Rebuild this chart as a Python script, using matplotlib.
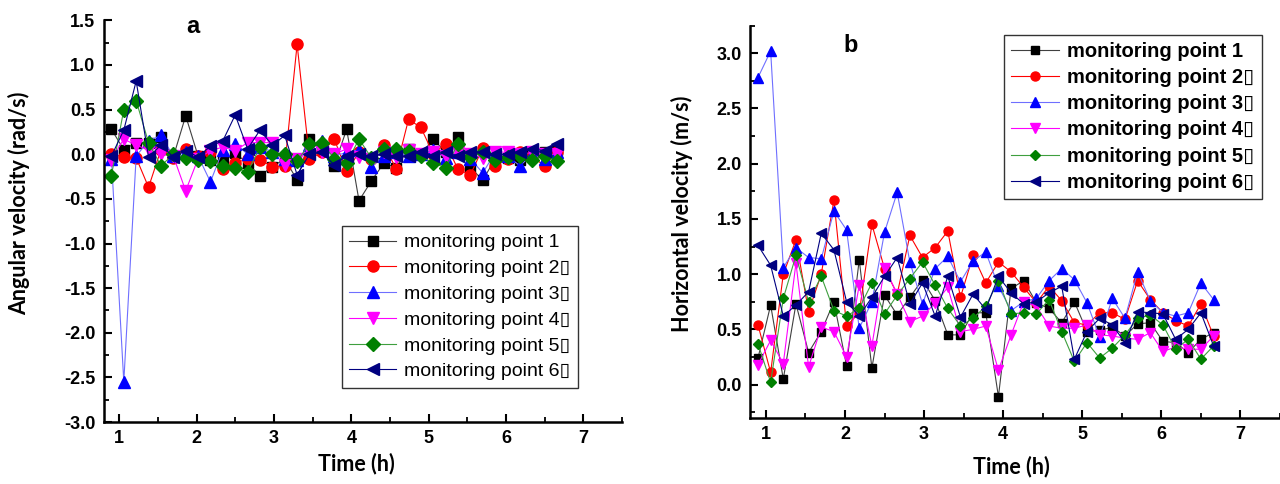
import matplotlib
matplotlib.use('Agg')
import matplotlib.pyplot as plt
from matplotlib.ticker import MultipleLocator

# time (h)
time_h = [0.90, 1.06, 1.22, 1.38, 1.54, 1.70, 1.86, 2.02, 2.18, 2.34, 2.50, 2.66,
          2.82, 2.98, 3.14, 3.30, 3.46, 3.62, 3.78, 3.94, 4.10, 4.26, 4.42, 4.58,
          4.74, 4.90, 5.06, 5.22, 5.38, 5.54, 5.70, 5.86, 6.02, 6.18, 6.34, 6.50, 6.66]

# (a) angular velocity (rad/s)
ang_p1 = [0.28, 0.05, 0.13, 0.13, 0.19, -0.03, 0.43, -0.02, -0.06, -0.08, 0.01, -0.10,
          -0.24, -0.14, -0.05, -0.29, 0.17, 0.05, -0.13, 0.28, -0.52, -0.30, -0.10, -0.15,
          0.06, 0.00, 0.17, 0.02, 0.19, -0.15, -0.29, -0.05, -0.04, -0.06, 0.03, 0.02, 0.05]
ang_p2 = [0.00, -0.03, -0.04, -0.37, 0.05, -0.04, 0.06, -0.02, 0.02, -0.17, -0.10, -0.05,
          -0.06, -0.14, -0.13, 1.23, -0.05, 0.02, 0.17, -0.19, 0.02, -0.05, 0.10, -0.16,
          0.39, 0.30, 0.00, 0.12, -0.17, -0.23, 0.07, -0.13, -0.05, 0.02, -0.03, -0.13, 0.03]
ang_p3 = [-0.05, -2.55, -0.02, 0.15, 0.21, -0.02, 0.03, -0.02, -0.31, 0.05, 0.12, 0.00,
          0.08, 0.03, -0.05, -0.07, 0.10, 0.15, -0.02, 0.02, 0.05, -0.14, -0.02, 0.03,
          -0.02, 0.00, 0.05, -0.04, 0.03, -0.05, -0.21, 0.02, -0.02, -0.13, 0.00, -0.05, 0.02]
ang_p4 = [-0.06, 0.17, 0.10, 0.05, 0.00, -0.02, -0.41, -0.05, 0.04, 0.08, 0.04, 0.13,
          0.13, 0.13, -0.12, -0.05, 0.05, 0.03, 0.00, 0.06, -0.03, -0.05, 0.02, -0.03,
          0.05, 0.00, 0.03, -0.02, 0.02, 0.00, -0.04, 0.03, 0.02, 0.00, 0.02, 0.00, 0.00]
ang_p5 = [-0.24, 0.50, 0.60, 0.13, -0.13, 0.00, -0.04, -0.06, -0.08, -0.13, -0.15, -0.20,
          0.08, 0.00, 0.00, -0.08, 0.12, 0.13, -0.05, -0.10, 0.17, -0.04, 0.06, 0.06,
          0.04, -0.02, -0.10, -0.15, 0.12, -0.03, 0.02, -0.06, -0.03, -0.02, -0.06, -0.02, -0.08]
ang_p6 = [-0.02, 0.27, 0.82, -0.03, 0.10, -0.03, 0.04, -0.03, 0.09, 0.15, 0.44, 0.06,
          0.27, 0.10, 0.21, -0.23, 0.00, 0.02, -0.12, -0.02, 0.00, -0.02, 0.00, -0.02,
          -0.02, 0.03, -0.02, 0.02, -0.02, 0.03, 0.02, 0.00, 0.00, 0.02, 0.06, 0.04, 0.12]

# (b) horizontal velocity (m/s)
hor_p1 = [0.24, 0.72, 0.05, 0.73, 0.29, 0.48, 0.75, 0.17, 1.13, 0.15, 0.81, 0.63,
          0.79, 0.95, 0.76, 0.45, 0.45, 0.65, 0.65, -0.11, 0.87, 0.94, 0.74, 0.69,
          0.56, 0.75, 0.48, 0.49, 0.52, 0.44, 0.55, 0.56, 0.39, 0.38, 0.29, 0.41, 0.47]
hor_p2 = [0.54, 0.11, 1.00, 1.31, 0.66, 1.00, 1.67, 0.53, 0.65, 1.45, 1.05, 0.82,
          1.35, 1.15, 1.24, 1.39, 0.79, 1.17, 0.92, 1.11, 1.02, 0.88, 0.74, 0.89,
          0.76, 0.56, 0.54, 0.65, 0.65, 0.59, 0.94, 0.77, 0.65, 0.58, 0.53, 0.73, 0.44]
hor_p3 = [2.78, 3.02, 1.06, 1.24, 1.15, 1.14, 1.57, 1.40, 0.51, 0.75, 1.38, 1.74,
          1.11, 0.73, 1.05, 1.16, 0.93, 1.12, 1.20, 0.89, 0.67, 0.75, 0.78, 0.94,
          1.05, 0.95, 0.74, 0.43, 0.78, 0.60, 1.02, 0.76, 0.65, 0.62, 0.65, 0.92, 0.77]
hor_p4 = [0.18, 0.40, 0.19, 1.10, 0.16, 0.52, 0.48, 0.25, 0.90, 0.35, 1.06, 0.82,
          0.57, 0.62, 0.74, 0.88, 0.48, 0.50, 0.53, 0.13, 0.45, 0.75, 0.71, 0.53,
          0.51, 0.51, 0.54, 0.45, 0.44, 0.42, 0.41, 0.47, 0.30, 0.34, 0.32, 0.32, 0.44]
hor_p5 = [0.37, 0.02, 0.78, 1.17, 0.75, 0.98, 0.67, 0.62, 0.69, 0.92, 0.64, 0.81,
          0.96, 1.11, 0.90, 0.69, 0.53, 0.60, 0.71, 0.94, 0.64, 0.65, 0.64, 0.77,
          0.48, 0.21, 0.38, 0.24, 0.33, 0.45, 0.60, 0.63, 0.54, 0.32, 0.41, 0.23, 0.35]
hor_p6 = [1.26, 1.08, 0.62, 0.72, 0.84, 1.37, 1.22, 0.75, 0.62, 0.79, 0.98, 1.15,
          0.73, 0.92, 0.62, 0.98, 0.61, 0.82, 0.68, 0.98, 0.83, 0.73, 0.75, 0.83,
          0.89, 0.23, 0.48, 0.60, 0.54, 0.38, 0.66, 0.65, 0.64, 0.41, 0.50, 0.65, 0.35]

labels = ['monitoring point 1', 'monitoring point 2\u25af', 'monitoring point 3\u25af',
          'monitoring point 4\u25af', 'monitoring point 5\u25af', 'monitoring point 6\u25af']
markers = ['s', 'o', '^', 'v', 'D', '<']
mcolors = ['black', 'red', 'blue', 'magenta', '#008000', '#000080']
lcolors = ['#404040', 'red', '#6f6fff', 'magenta', '#3f9f3f', '#000080']
msizes = [7, 8, 8, 8, 7, 8]

fig = plt.figure(figsize=(12.8, 4.84), dpi=100)
ax1 = fig.add_axes([0.081, 0.128, 0.405, 0.83])
ax2 = fig.add_axes([0.586, 0.137, 0.414, 0.81])

narrow = ['Liberation Sans Narrow', 'Liberation Sans', 'DejaVu Sans']
sans = ['Liberation Sans', 'DejaVu Sans']


def style_axes(ax, tickfont, tsize):
    for s in ['top', 'right']:
        ax.spines[s].set_visible(False)
    for s in ['left', 'bottom']:
        ax.spines[s].set_linewidth(1.8)
    ax.set_xlim(0.8, 7.5)
    ax.xaxis.set_major_locator(MultipleLocator(1))
    ax.xaxis.set_minor_locator(MultipleLocator(0.5))
    ax.yaxis.set_major_locator(MultipleLocator(0.5))
    ax.yaxis.set_minor_locator(MultipleLocator(0.25))
    ax.tick_params(which='major', direction='in', length=6, width=1.5, pad=6)
    ax.tick_params(which='minor', direction='in', length=3.5, width=1.3)
    for lab in ax.get_xticklabels() + ax.get_yticklabels():
        lab.set_fontfamily(tickfont)
        lab.set_fontweight('bold')
        lab.set_fontsize(tsize)


ang = [ang_p1, ang_p2, ang_p3, ang_p4, ang_p5, ang_p6]
hor = [hor_p1, hor_p2, hor_p3, hor_p4, hor_p5, hor_p6]

for k in range(6):
    ax1.plot(time_h, ang[k], marker=markers[k], color=lcolors[k], mfc=mcolors[k],
             mec=mcolors[k], ms=msizes[k], lw=0.8, label=labels[k])
    ax2.plot(time_h, hor[k], marker=markers[k], color=lcolors[k], mfc=mcolors[k],
             mec=mcolors[k], ms=msizes[k] - 1.5, lw=0.8, label=labels[k])

ax1.set_ylim(-3.0, 1.5)
ax2.set_ylim(-0.3, 3.25)
ax1.yaxis.set_major_formatter(matplotlib.ticker.FormatStrFormatter('%.1f'))
ax2.yaxis.set_major_formatter(matplotlib.ticker.FormatStrFormatter('%.1f'))
style_axes(ax1, narrow, 13)
style_axes(ax2, sans, 13)

lab_font = dict(fontsize=15.5, fontweight='bold', family='Lato')
ax1.set_xlabel('Time (h)', **lab_font)
ax1.set_ylabel('Angular velocity (rad/s)', **lab_font)
ax2.set_xlabel('Time (h)', **lab_font)
ax2.set_ylabel('Horizontal velocity (m/s)', **lab_font)
ax1.xaxis.set_label_coords(0.488, -0.077)
ax1.yaxis.set_label_coords(-0.141, 0.545)
ax2.xaxis.set_label_coords(0.494, -0.097)
ax2.yaxis.set_label_coords(-0.107, 0.52)

ax1.text(0.172, 0.985, 'a', transform=ax1.transAxes, fontsize=17, fontweight='bold',
         family=sans, va='center', ha='center')
ax2.text(0.19, 0.95, 'b', transform=ax2.transAxes, fontsize=17, fontweight='bold',
         family=sans, va='center', ha='center')

leg1 = ax1.legend(loc='upper left', bbox_to_anchor=(0.459, 0.488), frameon=True, fancybox=False,
                  edgecolor='black', prop={'family': sans, 'size': 14}, handlelength=2.4,
                  labelspacing=0.42, borderpad=0.4, handletextpad=0.4, borderaxespad=0)
leg1.get_frame().set_linewidth(1.0)
leg2 = ax2.legend(loc='upper left', bbox_to_anchor=(0.479, 0.977), frameon=True, fancybox=False,
                  edgecolor='black', prop={'family': sans, 'size': 14.5, 'weight': 'bold'},
                  handlelength=2.4, labelspacing=0.36, borderpad=0.35, handletextpad=0.4,
                  borderaxespad=0)
leg2.get_frame().set_linewidth(1.0)

fig.savefig('out.png', dpi=100)
